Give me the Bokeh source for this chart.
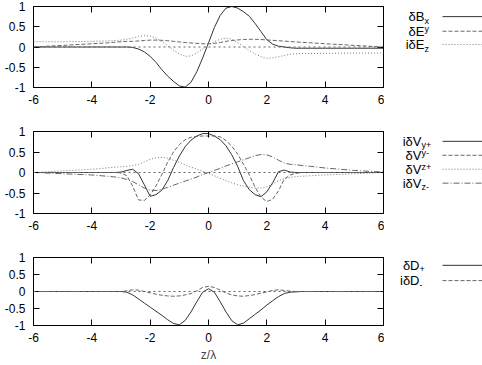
from bokeh.plotting import figure
from bokeh.models import Span, LinearAxis, FixedTicker, Range1d, CustomJSTickFormatter
from bokeh.core.properties import value
from bokeh.layouts import column, row
from bokeh.embed import file_html
from bokeh.resources import INLINE

# ---------------- data ----------------
z = [-6, -5, -4, -3.5, -3.2, -3.0, -2.8, -2.6, -2.4, -2.2, -2.0, -1.8, -1.6, -1.4, -1.2, -1.0,
     -0.8, -0.6, -0.4, -0.2, 0.0, 0.2, 0.4, 0.6, 0.8, 1.0, 1.2, 1.4, 1.6, 1.8, 2.0, 2.2, 2.4,
     2.6, 2.8, 3.0, 3.2, 3.5, 4, 5, 6]

dBx = [0, 0, 0, 0, 0, 0, 0, -0.01, -0.05, -0.12, -0.23, -0.38, -0.56, -0.72, -0.85, -0.96,
       -0.99, -0.87, -0.61, -0.27, 0.10, 0.48, 0.78, 0.96, 1.0, 0.96, 0.87, 0.76, 0.58, 0.38,
       0.18, 0.07, 0.02, 0.0, -0.02, -0.03, -0.03, -0.03, -0.03, -0.03, -0.03]
dEy = [0.0, 0.04, 0.08, 0.10, 0.12, 0.13, 0.14, 0.14, 0.15, 0.16, 0.17, 0.17, 0.165, 0.155,
       0.14, 0.125, 0.11, 0.10, 0.09, 0.08, 0.08, 0.09, 0.11, 0.14, 0.16, 0.175, 0.185, 0.19,
       0.19, 0.185, 0.175, 0.165, 0.155, 0.145, 0.135, 0.125, 0.115, 0.105, 0.08, 0.04, 0.0]
idEz = [0.13, 0.13, 0.14, 0.15, 0.16, 0.17, 0.19, 0.22, 0.26, 0.28, 0.27, 0.22, 0.13, 0.03,
        -0.08, -0.17, -0.23, -0.22, -0.15, -0.05, 0.05, 0.13, 0.19, 0.22, 0.19, 0.11, 0.01,
        -0.09, -0.17, -0.24, -0.28, -0.27, -0.24, -0.21, -0.18, -0.17, -0.16, -0.16, -0.155,
        -0.15, -0.15]

idVyp = [0, 0, 0, 0, 0, 0.01, 0.05, 0.08, -0.03, -0.30, -0.58, -0.54, -0.43, -0.2, 0.12, 0.4,
         0.63, 0.79, 0.89, 0.95, 0.95, 0.89, 0.8, 0.65, 0.43, 0.15, -0.2, -0.42, -0.54, -0.59,
         -0.47, -0.25, 0.02, 0.06, 0.01, 0, 0, 0, 0, 0, 0]
dVym = [0, 0, 0, 0, 0, -0.01, -0.08, -0.33, -0.67, -0.68, -0.55, -0.33, -0.05, 0.25, 0.5,
        0.68, 0.8, 0.86, 0.88, 0.89, 0.89, 0.89, 0.87, 0.78, 0.64, 0.45, 0.2, -0.06, -0.36,
        -0.6, -0.71, -0.65, -0.45, -0.16, -0.06, -0.02, 0, 0, 0, 0, 0]
dVzp = [0, 0.04, 0.08, 0.11, 0.13, 0.14, 0.15, 0.17, 0.2, 0.26, 0.32, 0.36, 0.37, 0.35, 0.3,
        0.25, 0.19, 0.13, 0.08, 0.03, -0.02, -0.08, -0.14, -0.2, -0.25, -0.3, -0.33, -0.36,
        -0.38, -0.38, -0.35, -0.28, -0.2, -0.15, -0.12, -0.1, -0.09, -0.08, -0.06, -0.03, 0]
idVzm = [0, -0.03, -0.06, -0.09, -0.11, -0.13, -0.17, -0.22, -0.3, -0.38, -0.43, -0.44, -0.41,
         -0.36, -0.31, -0.26, -0.21, -0.16, -0.11, -0.05, 0, 0.05, 0.1, 0.16, 0.21, 0.26, 0.31,
         0.36, 0.41, 0.44, 0.43, 0.38, 0.3, 0.23, 0.2, 0.19, 0.17, 0.15, 0.11, 0.05, 0.01]

dDp = [0, 0, 0, 0, 0, 0, -0.02, -0.1, -0.22, -0.34, -0.46, -0.58, -0.7, -0.83, -0.94, -0.98,
       -0.85, -0.6, -0.3, -0.02, 0.08, -0.02, -0.3, -0.6, -0.86, -0.98, -0.93, -0.8, -0.67,
       -0.54, -0.4, -0.27, -0.15, -0.06, -0.02, -0.01, 0, 0, 0, 0, 0]
idDm = [0, 0, 0, 0, 0, 0, 0.02, 0.05, 0.04, 0.0, -0.04, -0.08, -0.11, -0.13, -0.14, -0.13,
        -0.1, -0.06, 0.02, 0.12, 0.15, 0.12, 0.04, -0.04, -0.1, -0.13, -0.14, -0.12, -0.09,
        -0.05, -0.01, 0.03, 0.05, 0.03, 0.01, 0, 0, 0, 0, 0, 0]

x_ticks = [-6, -4, -2, 0, 2, 4, 6]
y_ticks = [-1, -0.5, 0, 0.5, 1]

# legend entries: main text, subscript, subscript shift (px, + = down)
legend1 = [("δB", "x", 4), ("δE", "y", -2), ("iδE", "z", 4)]
legend2 = [("iδV", "y+", 4), ("δV", "y-", -2), ("δV", "z+", -2), ("iδV", "z-", 4)]
legend3 = [("δD", "+", 4), ("iδD", "-", 4)]

FONT = "Liberation Sans"
W = 482
LEFT = 33
FW = 350
PW = LEFT + FW + 1          # width of the plotting figure
LW = W - PW                 # width of the legend strip
fmt = CustomJSTickFormatter(code="return String(tick);")


def make_fig(height, top, bottom, xlabel=None):
    p = figure(width=PW, height=height, output_backend="svg", toolbar_location=None,
               x_range=Range1d(-6, 6), y_range=Range1d(-1, 1),
               min_border_left=LEFT, min_border_right=1,
               min_border_top=top, min_border_bottom=bottom)
    p.xgrid.visible = False
    p.ygrid.visible = False
    p.outline_line_color = "black"
    p.outline_line_alpha = 1
    p.outline_line_width = 1
    p.xaxis.ticker = FixedTicker(ticks=x_ticks)
    p.yaxis.ticker = FixedTicker(ticks=y_ticks)
    p.xaxis.formatter = fmt
    p.yaxis.formatter = fmt
    for ax in p.axis:
        ax.axis_line_color = None
        ax.major_tick_in = 6
        ax.major_tick_out = 0
        ax.minor_tick_line_color = None
        ax.major_tick_line_color = "black"
        ax.major_label_text_font = FONT
        ax.major_label_text_font_size = "12px"
        ax.major_label_text_color = "black"
    p.yaxis.major_label_standoff = 8
    p.xaxis.major_label_standoff = 7
    if xlabel:
        p.xaxis.axis_label = xlabel
        p.xaxis.axis_label_text_font = FONT
        p.xaxis.axis_label_text_font_size = "12px"
        p.xaxis.axis_label_text_font_style = "normal"
        p.xaxis.axis_label_standoff = 3
    for side, tk in (("right", y_ticks), ("above", x_ticks)):
        a = LinearAxis(ticker=FixedTicker(ticks=tk), axis_line_color=None,
                       major_tick_in=6, major_tick_out=0, minor_tick_line_color=None,
                       major_label_text_font_size="0px", major_label_standoff=0,
                       major_label_text_alpha=0)
        p.add_layout(a, side)
    p.add_layout(Span(location=0, dimension="width", line_color="#666666",
                      line_dash="2 3", line_width=1))
    return p


def make_legend(height, top, bottom, entries, ys, styles, text_x):
    lg = figure(width=LW, height=height, output_backend="svg", toolbar_location=None,
                x_range=Range1d(PW, W), y_range=Range1d(-1, 1),
                min_border_left=0, min_border_right=0,
                min_border_top=top, min_border_bottom=bottom)
    lg.axis.visible = False
    lg.xgrid.visible = False
    lg.ygrid.visible = False
    lg.outline_line_color = None
    mains = [e[0] for e in entries]
    subs = [e[1] for e in entries]
    shifts = [e[2] for e in entries]
    lg.text(x=[text_x] * len(ys), y=ys, text=mains, text_align="right",
            text_baseline="middle", text_font=value(FONT), text_font_size=value("13px"),
            text_color="black")
    for s, yv, dy in zip(subs, ys, shifts):
        lg.text(x=[text_x], y=[yv], text=[s], y_offset=dy, text_align="left",
                text_baseline="middle", text_font=value(FONT), text_font_size=value("9px"),
                text_color="black")
    for yv, (col, dash) in zip(ys, styles):
        lg.line(x=[442, W], y=[yv, yv], line_color=col, line_dash=dash, line_width=1)
    return lg


SOLID = ("#333333", "solid")
DASH = ("#666666", "4 2")
DOT = ("#777777", "1 2")
DASHDOT = ("#666666", "6 2 1 2")

p1 = make_fig(109, 6, 22)
p1.line(z, dBx, line_color=SOLID[0], line_width=1)
p1.line(z, dEy, line_color=DASH[0], line_dash=DASH[1], line_width=1)
p1.line(z, idEz, line_color=DOT[0], line_dash=DOT[1], line_width=1)
l1 = make_legend(109, 6, 22, legend1, [0.75, 0.39, 0.06], [SOLID, DASH, DOT], 424)

p2 = make_fig(126, 22, 22)
p2.line(z, idVyp, line_color=SOLID[0], line_width=1)
p2.line(z, dVym, line_color=DASH[0], line_dash=DASH[1], line_width=1)
p2.line(z, dVzp, line_color=DOT[0], line_dash=DOT[1], line_width=1)
p2.line(z, idVzm, line_color=DASHDOT[0], line_dash=DASHDOT[1], line_width=1)
l2 = make_legend(126, 22, 22, legend2, [0.76, 0.42, 0.08, -0.26],
                 [SOLID, DASH, DOT, DASHDOT], 421)

p3 = make_fig(130, 22, 40, xlabel="z/λ")
p3.line(z, dDp, line_color=SOLID[0], line_width=1)
p3.line(z, idDm, line_color=DASH[0], line_dash=DASH[1], line_width=1)
l3 = make_legend(130, 22, 40, legend3, [0.77, 0.32], [SOLID, DASH], 419)

layout = column(row(p1, l1, spacing=0), row(p2, l2, spacing=0), row(p3, l3, spacing=0),
                spacing=0)
open("out.html", "w").write(file_html(layout, INLINE))
